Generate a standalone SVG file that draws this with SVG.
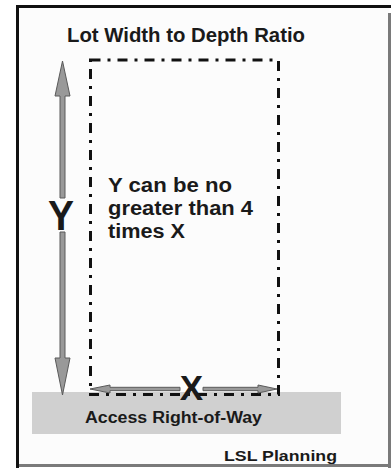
<svg xmlns="http://www.w3.org/2000/svg" width="391" height="468" viewBox="0 0 391 468">
<style>
.t{font-family:"Liberation Sans",Arial,sans-serif;font-weight:bold;fill:#1a1a1a}
.arr{fill:#999999;stroke:#5a5a5a;stroke-width:1}
</style>
<rect x="0" y="0" width="391" height="468" fill="#ffffff"/>
<g id="frame">
<rect x="18" y="7" width="371" height="458" fill="#fcfcfc"/>
<rect x="16" y="5" width="375" height="3" fill="#111"/>
<rect x="16" y="5" width="3" height="463" fill="#111"/>
<rect x="388" y="13" width="3" height="455" fill="#7a7a7a"/>
<rect x="19" y="464" width="372" height="3" fill="#7a7a7a"/>
</g>
<g id="title"><text class="t" x="67" y="41.5" font-size="20" textLength="238" lengthAdjust="spacingAndGlyphs">Lot Width to Depth Ratio</text></g>
<g id="road">
<rect x="32" y="392" width="309" height="42" fill="#d0d0d0"/>
<text class="t" x="85" y="423.3" font-size="16" textLength="177" lengthAdjust="spacingAndGlyphs">Access Right-of-Way</text>
</g>
<g id="lot">
<rect x="90.5" y="60" width="188" height="334.5" fill="none" stroke="#111" stroke-width="3" stroke-dasharray="10 7 3 7"/>
<text class="t" font-size="20"><tspan x="108" y="192" textLength="124" lengthAdjust="spacingAndGlyphs">Y can be no</tspan><tspan x="108" y="215" textLength="145" lengthAdjust="spacingAndGlyphs">greater than 4</tspan><tspan x="108" y="238" textLength="77" lengthAdjust="spacingAndGlyphs">times X</tspan></text>
</g>
<g id="connectors">
<path class="arr" d="M62.5 61 L70 96 L65 96 L65 198 L60 198 L60 96 L55 96 Z"/>
<path class="arr" d="M62.5 395 L70 358 L65 358 L65 232 L60 232 L60 358 L55 358 Z"/>
<path class="arr" d="M90 389 L110 385 L110 387.3 L180 387.3 L180 390.7 L110 390.7 L110 393 Z"/>
<path class="arr" d="M277 389 L258 385 L258 387.3 L203 387.3 L203 390.7 L258 390.7 L258 393 Z"/>
</g>
<g id="labelY"><text class="t" x="61" y="230" font-size="42" text-anchor="middle" textLength="26" lengthAdjust="spacingAndGlyphs">Y</text></g>
<g id="labelX"><text class="t" x="191.5" y="400" font-size="35" text-anchor="middle">X</text></g>
<g id="credit"><text class="t" x="224" y="461" font-size="15.5" textLength="113" lengthAdjust="spacingAndGlyphs">LSL Planning</text></g>
</svg>
